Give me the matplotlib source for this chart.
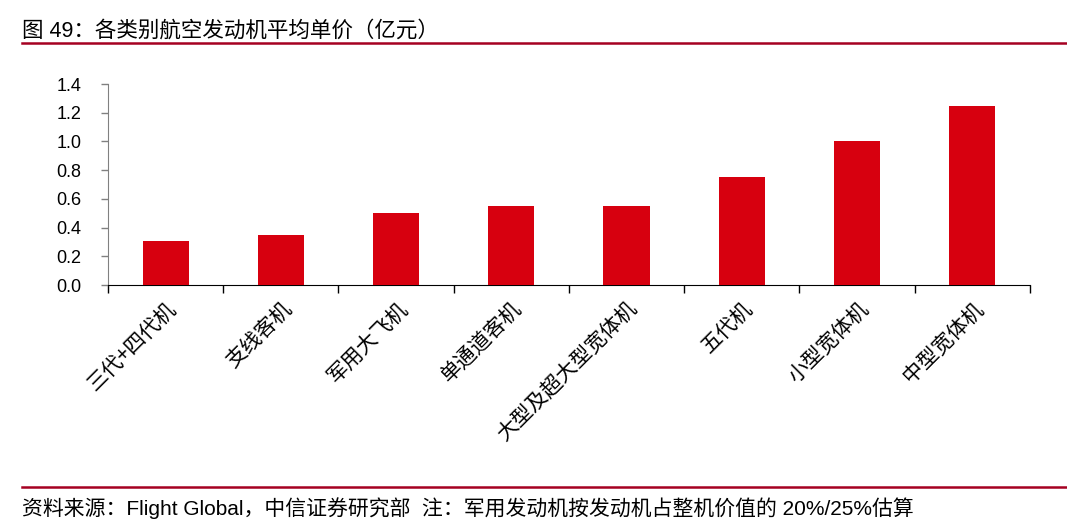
import matplotlib
matplotlib.use("Agg")
import matplotlib.pyplot as plt
from matplotlib.lines import Line2D

# data
categories = ["三代+四代机", "支线客机", "军用大飞机", "单通道客机",
              "大型及超大型宽体机", "五代机", "小型宽体机", "中型宽体机"]
prices = [0.31, 0.35, 0.50, 0.55, 0.55, 0.75, 1.00, 1.25]
y_ticks = [0.0, 0.2, 0.4, 0.6, 0.8, 1.0, 1.2, 1.4]

title = "图 49：各类别航空发动机平均单价（亿元）"
source = "资料来源：Flight Global，中信证券研究部  注：军用发动机按发动机占整机价值的 20%/25%估算"

fonts = ["Liberation Sans", "Noto Sans CJK SC"]
plt.rcParams["font.family"] = fonts

fig = plt.figure(figsize=(10.67, 5.29), dpi=100)
ax = fig.add_axes([0.1012, 0.4612, 0.864, 0.38])

x = list(range(len(categories)))
ax.bar(x, prices, width=0.4, color="#D7000F", zorder=3)

ax.set_xlim(-0.5, len(categories) - 0.5)
ax.set_ylim(0, 1.4)
ax.set_yticks(y_ticks)
ax.set_yticklabels([f"{v:.1f}" for v in y_ticks], fontsize=13)

# ticks between categories, labels at the bars
ax.set_xticks([i - 0.5 for i in range(len(categories) + 1)])
ax.set_xticklabels([])
ax.set_xticks(x, minor=True)
ax.set_xticklabels(categories, minor=True, rotation=45, ha="right",
                   rotation_mode="anchor", fontsize=15,
                   family=["Noto Sans CJK SC", "DejaVu Sans"])
ax.tick_params(axis="x", which="minor", length=0, pad=9)
ax.tick_params(axis="x", which="major", length=6, width=1, color="black")
ax.tick_params(axis="y", length=5, width=1, color="#808080", pad=14)

for s in ["top", "right"]:
    ax.spines[s].set_visible(False)
ax.spines["left"].set_color("#808080")
ax.spines["bottom"].set_color("black")

# title, rules and footer
fig.text(0.021, 0.941, title, fontsize=15.5, ha="left", va="center")
fig.add_artist(Line2D([0.021, 1.0], [0.919, 0.919], color="#A50021", lw=1.8))
fig.add_artist(Line2D([0.021, 1.0], [0.079, 0.079], color="#A50021", lw=1.8))
fig.text(0.021, 0.040, source, fontsize=15, ha="left", va="center")

fig.savefig("out.png", dpi=100)
